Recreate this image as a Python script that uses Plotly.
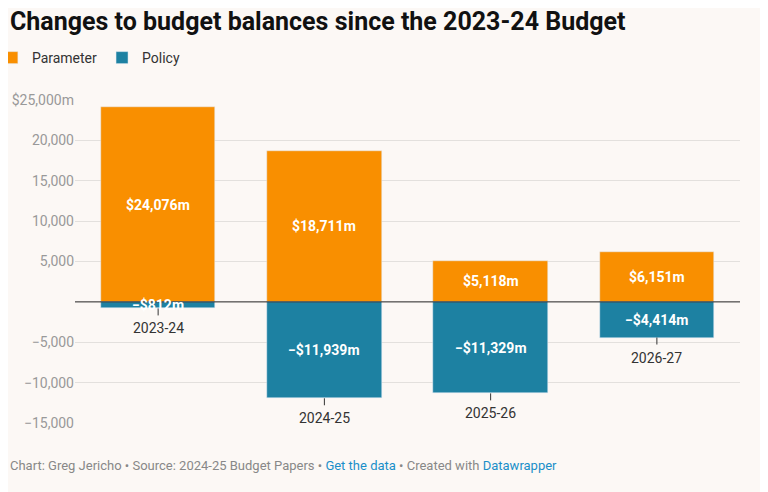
import plotly.graph_objects as go

years = ["2023-24", "2024-25", "2025-26", "2026-27"]
parameter = [24076, 18711, 5118, 6151]
policy = [-812, -11939, -11329, -4414]
tick_vals = [25000, 20000, 15000, 10000, 5000, -5000, -10000, -15000]
tick_text = ["$25,000m", "20,000", "15,000", "10,000", "5,000", "−5,000", "−10,000", "−15,000"]

ORANGE = "#f98f00"
BLUE = "#1d81a2"
BG = "#fcf8f5"

def fmt(v):
    s = f"${abs(v):,}m"
    return ("−" + s) if v < 0 else s

fig = go.Figure()
fig.add_trace(go.Bar(x=years, y=parameter, name="Parameter", marker_color=ORANGE, width=0.69))
fig.add_trace(go.Bar(x=years, y=policy, name="Policy", marker_color=BLUE, width=0.69))

annotations = []
shapes = []
for i, y in enumerate(years):
    for v in (parameter[i], policy[i]):
        annotations.append(dict(x=y, y=v / 2, text=fmt(v), showarrow=False,
                                font=dict(family="Roboto", size=14, color="white", weight="bold")))
    annotations.append(dict(x=y, y=policy[i], yanchor="top", yshift=-10, text=y, showarrow=False,
                            font=dict(family="Roboto", size=14, color="#333")))
    shapes.append(dict(type="line", xref="x", yref="y", x0=i, x1=i, ysizemode="pixel",
                       yanchor=policy[i], y0=0, y1=-7, line=dict(color="#333", width=1)))
shapes.append(dict(type="line", xref="paper", yref="y", x0=0, x1=1, y0=0, y1=0,
                   line=dict(color="#222", width=1)))

annotations.append(dict(xref="paper", yref="paper", x=-0.101, y=1.243, xanchor="left", yanchor="middle",
                        showarrow=False, text="<b>Changes to budget balances since the 2023-24 Budget</b>",
                        font=dict(family="Roboto", size=25, color="#111")))
annotations.append(dict(xref="paper", yref="paper", x=-0.101, y=-0.133, xanchor="left", yanchor="middle",
                        showarrow=False,
                        text="Chart: Greg Jericho • Source: 2024-25 Budget Papers • "
                             "<span style='color:#1a8fc9'>Get the data</span> • Created with "
                             "<span style='color:#1a8fc9'>Datawrapper</span>",
                        font=dict(family="Roboto", size=13, color="#888")))

fig.update_layout(
    barmode="relative",
    width=768, height=492,
    paper_bgcolor=BG, plot_bgcolor=BG,
    margin=dict(l=67, r=36, t=92, b=77, autoexpand=False),
    showlegend=True,
    legend=dict(orientation="h", x=-0.125, y=1.13, xanchor="left", yanchor="middle",
                font=dict(family="Roboto", size=14, color="#333"), itemwidth=30),
    xaxis=dict(range=[-0.5, 3.5], showticklabels=False, showgrid=False, zeroline=False),
    yaxis=dict(range=[-15000, 25000], tickvals=tick_vals, ticktext=tick_text,
               gridcolor="#e3e0dd", zeroline=False, automargin=False,
               tickfont=dict(family="Roboto", size=14, color="#999")),
    annotations=annotations,
    shapes=shapes,
    bargap=0,
)

fig.write_html("out.html")
